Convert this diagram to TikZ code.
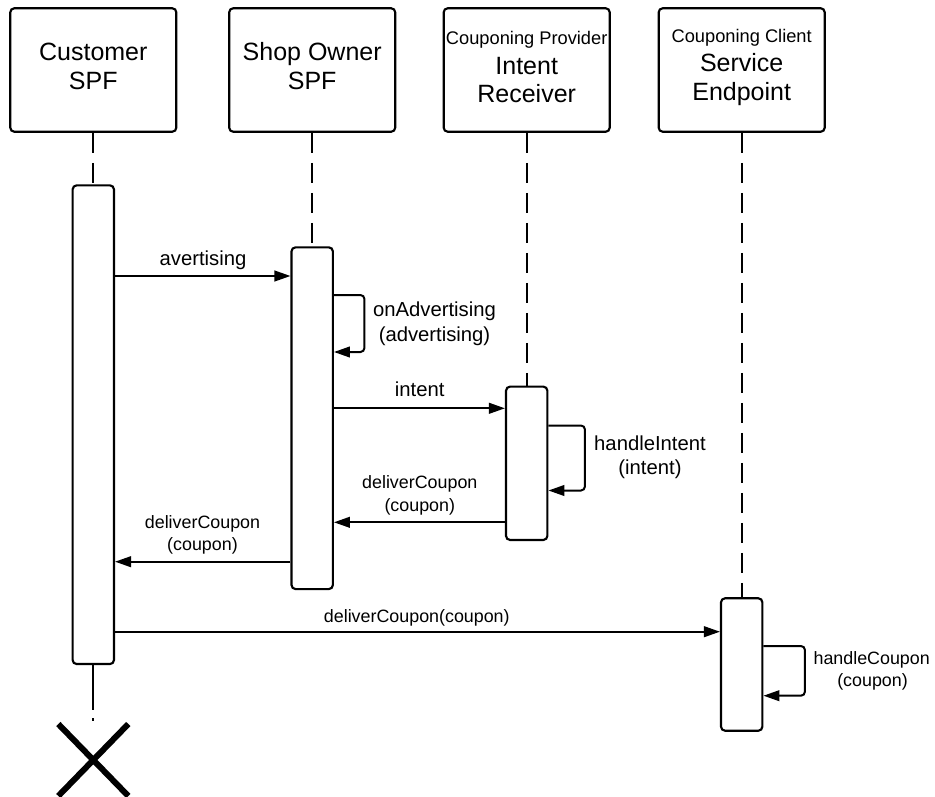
\documentclass[tikz,border=0pt]{standalone}
\usepackage{fontspec}
\setmainfont{Liberation Sans}
\usetikzlibrary{arrows.meta,shapes.misc}

\begin{document}
\begin{tikzpicture}[x=0.75pt,y=-0.75pt,
  head/.style={draw,line width=1.6pt,rounded corners=3pt,fill=white,
    minimum width=124.5pt,minimum height=92.6pt,inner sep=0pt},
  bar/.style={draw,line width=1.6pt,rounded corners=3pt,fill=white,
    minimum width=31pt,inner sep=0pt},
  life/.style={line width=1.5pt,dash pattern=on 15pt off 7.5pt},
  msg/.style={line width=1.5pt,-{Triangle[length=12pt,width=8pt]}},
  loopmsg/.style={msg,rounded corners=3pt},
  big/.style={font=\fontsize{18.75}{22}\selectfont,anchor=base,inner sep=0pt},
  small/.style={font=\fontsize{13.7}{16}\selectfont,anchor=base,inner sep=0pt},
  lbl/.style={font=\fontsize{15.2}{18}\selectfont,anchor=base,inner sep=0pt},
  slbl/.style={font=\fontsize{13.4}{16}\selectfont,anchor=base,inner sep=0pt},
]
\useasboundingbox (0,0) rectangle (935,796);

% participant heads
\node[head] (hc) at (93.3,70) {};
\node[head] (hs) at (312.2,70) {};
\node[head] (hp) at (526.7,70) {};
\node[head] (hk) at (741.7,70) {};

\node[big] (tc1) at (93.3,60) {Customer};
\node[big] (tc2) at (93.3,89.3) {SPF};
\node[big] (ts1) at (312.2,60) {Shop Owner};
\node[big] (ts2) at (312.2,89.3) {SPF};
\node[small] (tp0) at (526.7,44) {Couponing Provider};
\node[big] (tp1) at (526.7,74) {Intent};
\node[big] (tp2) at (526.7,102.7) {Receiver};
\node[small] (tk0) at (741.7,42.7) {Couponing Client};
\node[big] (tk1) at (741.7,71) {Service};
\node[big] (tk2) at (741.7,100) {Endpoint};

% activation bars
\node[bar,minimum height=359pt] (bc) at (93.3,424.7) {};
\node[bar,minimum height=256.3pt] (bs) at (312.2,418.2) {};
\node[bar,minimum height=115pt] (bp) at (526.7,463.3) {};
\node[bar,minimum height=99.3pt] (bk) at (741.7,664.5) {};

% destruction mark
\node[cross out,draw,line width=4.5pt,minimum width=48pt,minimum height=49.5pt,
  inner sep=0pt] (xend) at (93.3,760) {};

% lifelines
\draw[life] (hc.south) -- (bc.north);
\draw[life] (hs.south) -- (bs.north);
\draw[life] (hp.south) -- (bp.north);
\draw[life] (hk.south) -- (bk.north);
\draw[line width=1.5pt,dash pattern=on 33.75pt off 6pt on 2pt off 10pt]
  (bc.south) -- (xend.north);

% messages
\draw[msg] (bc.east |- 0,276) -- (bs.west |- 0,276);
\node[lbl] (m1) at (203,265) {avertising};

\draw[loopmsg] (bs.east |- 0,295) -- ++(30.5,0) |- (bs.east |- 0,352);
\node[lbl] (m2a) at (434.5,316) {onAdvertising};
\node[lbl] (m2b) at (434.5,341) {(advertising)};

\draw[msg] (bs.east |- 0,408.3) -- (bp.west |- 0,408.3);
\node[lbl] (m3) at (419.7,396) {intent};

\draw[loopmsg] (bp.east |- 0,425.5) -- ++(36.5,0) |- (bp.east |- 0,490.5);
\node[lbl] (m4a) at (650,450) {handleIntent};
\node[lbl] (m4b) at (650,474) {(intent)};

\draw[msg] (bp.west |- 0,522.3) -- (bs.east |- 0,522.3);
\node[slbl] (m5a) at (419.8,488.3) {deliverCoupon};
\node[slbl] (m5b) at (419.8,511) {(coupon)};

\draw[msg] (bs.west |- 0,561.7) -- (bc.east |- 0,561.7);
\node[slbl] (m6a) at (202.5,528) {deliverCoupon};
\node[slbl] (m6b) at (202.5,550) {(coupon)};

\draw[msg] (bc.east |- 0,631.7) -- (bk.west |- 0,631.7);
\node[slbl] (m7) at (416.8,622.3) {deliverCoupon(coupon)};

\draw[loopmsg] (bk.east |- 0,646) -- ++(41.5,0) |- (bk.east |- 0,695.7);
\node[slbl] (m8a) at (871.7,664) {handleCoupon};
\node[slbl] (m8b) at (872.5,686) {(coupon)};
\end{tikzpicture}
\end{document}
